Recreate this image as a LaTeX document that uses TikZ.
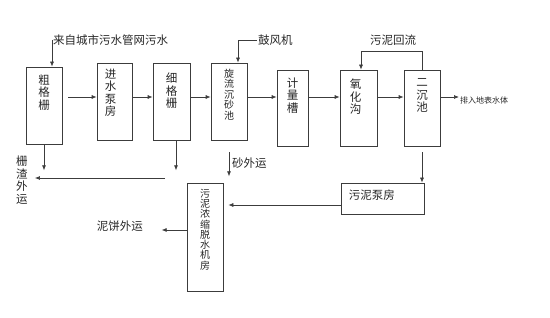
\documentclass[tikz,border=0pt]{standalone}
\usepackage{fontspec}
\usepackage{xcolor}
\usepackage{tikz}
\usetikzlibrary{calc,positioning,arrows.meta}

\newfontfamily\cjk{Noto Sans CJK SC}
\definecolor{linec}{HTML}{3C3C3C}

\tikzset{
  unit/.style={draw=linec, line width=0.7pt, minimum width=36pt, minimum height=77pt, inner sep=0pt},
  txt/.style={font=\cjk\fontsize{11.5}{12.5}\selectfont, text=black!85, inner sep=1pt},
  vtxt/.style={txt, align=center},
  arr/.style={draw=linec, line width=0.7pt, -{Latex[length=5pt,width=4pt]}},
}

\begin{document}
\begin{tikzpicture}[x=1pt, y=-1pt]
  \useasboundingbox (0,0) rectangle (550,318);
  % --- main line ---
  \node[unit] (cgs) at (44,105.5) {};
  \node[vtxt, anchor=north] (cgst) at ([yshift=-7pt]cgs.north) {粗\\格\\栅};
  \node[unit, minimum width=35pt] (jsb) at (114.5,101.5) {};
  \node[vtxt, anchor=north] (jsbt) at ([yshift=-5pt,xshift=-4pt]jsb.north) {进\\水\\泵\\房};
  \node[unit, minimum width=37pt] (xgs) at (171.5,101.5) {};
  \node[vtxt, anchor=north] (xgst) at ([yshift=-9pt]xgs.north) {细\\格\\栅};
  \node[unit] (xlc) at (229,101.5) {};
  \node[vtxt, anchor=north, font=\cjk\fontsize{10}{10.5}\selectfont] (xlct) at ([yshift=-5pt]xlc.north) {旋\\流\\沉\\砂\\池};
  \node[unit, minimum width=31pt, minimum height=76pt] (jlc) at (292.5,108) {};
  \node[vtxt, anchor=north] (jlct) at ([yshift=-7pt]jlc.north) {计\\量\\槽};
  \node[unit, minimum width=37pt, minimum height=76pt] (yhg) at (358.5,108) {};
  \node[vtxt, anchor=north] (yhgt) at ([yshift=-8pt,xshift=-3pt]yhg.north) {氧\\化\\沟};
  \node[unit, minimum height=76pt] (ecc) at (422,108) {};
  \node[vtxt, anchor=north] (ecct) at ([yshift=-8pt]ecc.north) {二\\沉\\池};
  \coordinate (row) at (0,97);
  \draw[arr] ([xshift=6pt]cgs.east |- row) -- (jsb.west |- row);
  \draw[arr] (jsb.east |- row) -- (xgs.west |- row);
  \draw[arr] (xgs.east |- row) -- (xlc.west |- row);
  \draw[arr] (xlc.east |- row) -- (jlc.west |- row);
  \draw[arr] (jlc.east |- row) -- (yhg.west |- row);
  \draw[arr] (yhg.east |- row) -- (ecc.west |- row);
  \node[txt, anchor=west, font=\cjk\fontsize{8}{9}\selectfont] (out) at (459,100) {排入地表水体};
  \draw[arr] (ecc.east |- row) -- (out.west |- row);
  % --- inputs on top ---
  \node[txt, anchor=west] (src) at (52,40) {来自城市污水管网污水};
  \draw[arr] (src.west) -- (src.west |- cgs.north);
  \node[txt, anchor=west] (gfj) at (257,40) {鼓风机};
  \draw[arr] (gfj.west) -| ([xshift=9pt]xlc.north);
  \node[txt] (hl) at (393,40) {污泥回流};
  \draw[arr] (ecc.north) -- ++(0,-18) -| ([xshift=2.5pt]yhg.north);
  % --- screenings and grit ---
  \node[vtxt] (zhwy) at (22,180) {栅\\渣\\外\\运};
  \draw[arr] (cgs.south) -- ++(0,26);
  \draw[arr] ([xshift=4.5pt]xgs.south) -- ++(0,30);
  \coordinate (zh) at (165,178);
  \draw[arr] (zh) -- ([xshift=6pt]zhwy.east |- zh);
  \draw[arr] ([yshift=-12pt]xlc.south) -- ++(0,24);
  \node[txt, anchor=west] (swy) at (231,163) {砂外运};
  % --- sludge line ---
  \node[unit, minimum width=83pt, minimum height=31pt] (wnb) at (382.5,198.5) {};
  \node[txt, anchor=west] (wnbt) at ([xshift=7pt,yshift=3pt]wnb.west) {污泥泵房};
  \draw[arr] ([yshift=-6pt]ecc.south) -- (ecc.south |- wnb.north);
  \node[unit, minimum height=108pt] (tsj) at (205,237) {};
  \node[vtxt, anchor=north, font=\cjk\fontsize{10}{10.3}\selectfont] (tsjt) at ([yshift=-5pt]tsj.north) {污\\泥\\浓\\缩\\脱\\水\\机\\房};
  \coordinate (sl) at ([yshift=-6.5pt]wnb.west);
  \draw[arr, shorten >=5pt] (sl) -- (sl -| tsj.east);
  \draw[arr] ([yshift=7pt]tsj.west) -- ++(-25,0);
  \node[txt, anchor=east] (nbwy) at (144,226) {泥饼外运};
\end{tikzpicture}
\end{document}
